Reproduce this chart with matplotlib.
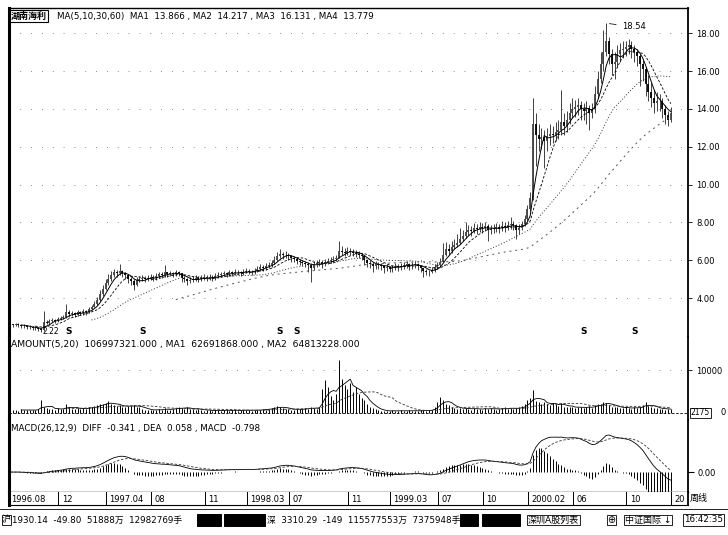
import matplotlib
matplotlib.use('Agg')
import matplotlib.pyplot as plt
import numpy as np
import pandas as pd
from matplotlib.patches import Rectangle

plt.rcParams['font.family'] = ['DejaVu Sans', 'Noto Sans CJK SC']

W, H = 728, 535

# weekly closes, 1996.08 .. 2001.01
close = [
    2.60, 2.55, 2.62, 2.58, 2.50, 2.52, 2.48, 2.45, 2.40, 2.42, 2.38,
    2.30, 2.75, 2.70, 2.80, 2.85, 2.78, 2.90, 2.95, 3.00,
    3.25, 3.15, 3.20, 3.10, 3.25, 3.20, 3.30, 3.25, 3.40,
    3.55, 3.70, 3.90, 4.20, 4.50, 4.80, 5.00,
    5.20, 5.35, 5.30, 5.45, 5.30, 5.20,
    5.00, 4.90, 4.70, 4.95, 5.00,
    5.05, 5.00, 5.05, 5.10, 5.05,
    5.15, 5.25, 5.20, 5.35, 5.25, 5.30, 5.25, 5.35, 5.30,
    5.05, 5.00, 4.90, 4.95, 5.00, 5.05, 5.00,
    5.05, 5.10, 5.05, 5.10, 5.05, 5.15,
    5.20, 5.25, 5.30, 5.25, 5.35, 5.30, 5.40, 5.35, 5.30, 5.40, 5.45, 5.40, 5.35, 5.45,
    5.55, 5.65, 5.60, 5.70, 5.75,
    5.85, 6.00, 6.20, 6.35, 6.25, 6.30, 6.20,
    6.10, 6.05, 5.95, 5.90, 5.85, 5.80,
    5.75, 5.60, 5.80, 5.85, 5.90,
    5.80, 5.90, 5.95, 6.00, 6.05, 6.10,
    6.50, 6.45, 6.40, 6.50, 6.45, 6.40, 6.35, 6.30, 6.20,
    6.00, 5.85, 5.80, 5.70, 5.80, 5.75, 5.70,
    5.60, 5.65, 5.55, 5.60, 5.70, 5.65, 5.70,
    5.75, 5.80, 5.70, 5.75, 5.80, 5.70, 5.60,
    5.45, 5.40, 5.35, 5.50,
    5.65, 5.75, 5.90,
    6.30, 6.60, 6.50, 6.70, 6.80, 6.90,
    7.10, 7.30, 7.50, 7.60, 7.55, 7.70, 7.65,
    7.75, 7.70, 7.80, 7.60, 7.65, 7.70, 7.75, 7.70, 7.80, 7.75, 7.85, 7.90, 7.85, 7.60,
    7.70, 7.90, 8.20, 8.70, 9.30,
    13.20,
    12.60, 12.40, 12.50, 12.30, 12.55, 12.70, 12.60, 12.80,
    12.90, 13.30, 13.10, 13.40,
    13.80, 14.00, 14.10, 14.20, 14.00, 13.90, 14.05, 13.80, 14.00,
    14.80, 15.60, 16.40,
    17.00, 17.60, 16.90, 16.40,
    16.50, 16.90, 17.10, 17.20, 17.30,
    17.40, 17.20, 17.00, 16.80,
    16.40, 16.10, 15.30, 14.90, 14.60, 14.30, 14.40,
    14.40, 14.00, 13.70, 13.40, 13.80,
]

high = [
    2.70, 2.65, 2.70, 2.68, 2.62, 2.60, 2.58, 2.55, 2.50, 2.50, 2.48,
    2.42, 3.30, 2.85, 2.90, 2.95, 2.90, 3.00, 3.05, 3.10,
    3.70, 3.35, 3.30, 3.25, 3.35, 3.30, 3.40, 3.35, 3.50,
    3.65, 3.85, 4.05, 4.40, 4.70, 5.00, 5.25,
    5.45, 5.55, 5.50, 5.80, 5.50, 5.40,
    5.25, 5.10, 5.00, 5.10, 5.15,
    5.20, 5.15, 5.20, 5.25, 5.20,
    5.30, 5.40, 5.35, 5.75, 5.40, 5.45, 5.40, 5.50, 5.45,
    5.30, 5.15, 5.05, 5.10, 5.15, 5.20, 5.15,
    5.20, 5.25, 5.20, 5.25, 5.20, 5.30,
    5.35, 5.40, 5.45, 5.40, 5.50, 5.45, 5.55, 5.50, 5.45, 5.55, 5.60, 5.55, 5.50, 5.60,
    5.70, 5.80, 5.75, 5.85, 5.90,
    6.00, 6.20, 6.45, 6.60, 6.45, 6.50, 6.40,
    6.30, 6.20, 6.15, 6.05, 6.00, 5.95,
    5.90, 5.85, 5.95, 6.00, 6.05,
    6.00, 6.05, 6.10, 6.15, 6.20, 6.30,
    7.00, 6.75, 6.65, 6.70, 6.65, 6.60, 6.55, 6.50, 6.40,
    6.25, 6.05, 6.00, 5.90, 5.95, 5.90, 5.85,
    5.75, 5.80, 5.70, 5.75, 5.85, 5.80, 5.85,
    5.90, 5.95, 5.85, 5.90, 5.95, 5.85, 5.75,
    5.60, 5.55, 5.50, 5.65,
    5.80, 5.90, 6.10,
    6.90, 6.95, 6.85, 7.00, 7.10, 7.40,
    7.70, 7.60, 8.00, 7.85, 7.80, 7.95, 7.90,
    8.00, 7.95, 8.00, 7.90, 7.85, 7.90, 7.95, 7.90, 8.05, 8.00, 8.10, 8.30, 8.10, 7.90,
    7.90, 8.10, 8.40, 8.90, 9.60,
    14.60,
    13.80, 13.20, 13.00, 12.90, 13.00, 13.20, 13.10, 13.30,
    13.40, 15.00, 13.80, 13.90,
    14.30, 14.60, 14.50, 14.60, 14.40, 14.30, 14.40, 14.20, 14.30,
    15.20, 16.00, 17.00,
    18.20, 18.54, 17.80, 17.20,
    17.00, 17.40, 17.50, 17.60, 17.60,
    17.70, 17.60, 17.40, 17.20,
    16.90, 16.60, 16.20, 15.80, 15.40, 15.00, 14.90,
    14.80, 14.60, 14.20, 13.90, 14.10,
]

low = [
    2.50, 2.45, 2.50, 2.48, 2.40, 2.42, 2.38, 2.35, 2.30, 2.32, 2.28,
    2.22, 2.28, 2.60, 2.65, 2.72, 2.68, 2.72, 2.85, 2.88,
    2.95, 3.00, 3.05, 2.98, 3.05, 3.08, 3.12, 3.12, 3.20,
    3.35, 3.50, 3.65, 3.85, 4.10, 4.40, 4.70,
    4.90, 5.10, 5.10, 5.20, 5.10, 5.00,
    4.80, 4.70, 4.40, 4.65, 4.85,
    4.90, 4.85, 4.90, 4.95, 4.90,
    4.95, 5.05, 5.05, 5.10, 5.10, 5.15, 5.10, 5.15, 5.15,
    4.85, 4.85, 4.70, 4.80, 4.85, 4.90, 4.85,
    4.90, 4.95, 4.90, 4.95, 4.90, 4.95,
    5.05, 5.10, 5.15, 5.10, 5.15, 5.15, 5.20, 5.20, 5.15, 5.20, 5.30, 5.25, 5.20, 5.25,
    5.35, 5.45, 5.45, 5.50, 5.60,
    5.65, 5.80, 5.95, 6.10, 6.05, 6.10, 6.00,
    5.90, 5.90, 5.80, 5.75, 5.70, 5.65,
    5.40, 4.85, 5.50, 5.65, 5.70,
    5.60, 5.70, 5.80, 5.85, 5.90, 5.95,
    6.10, 6.25, 6.20, 6.25, 6.25, 6.20, 6.15, 6.10, 6.00,
    5.75, 5.65, 5.60, 5.40, 5.55, 5.55, 5.50,
    5.30, 5.45, 5.35, 5.40, 5.50, 5.45, 5.50,
    5.55, 5.60, 5.50, 5.55, 5.60, 5.50, 5.40,
    5.10, 5.20, 5.15, 5.30,
    5.40, 5.55, 5.65,
    5.90, 6.20, 6.30, 6.40, 6.60, 6.70,
    6.85, 7.00, 7.20, 7.35, 7.30, 7.45, 7.40,
    7.50, 7.45, 7.55, 7.00, 7.40, 7.45, 7.50, 7.45, 7.55, 7.50, 7.60, 7.65, 7.60, 7.10,
    7.40, 7.60, 7.80, 8.10, 8.60,
    9.20,
    11.00, 11.80, 11.90, 10.90, 11.80, 12.10, 12.20, 12.30,
    12.40, 12.60, 12.60, 12.80,
    13.20, 13.50, 13.60, 13.70, 13.40, 13.40, 13.20, 12.90, 13.50,
    13.80, 14.60, 15.40,
    16.00, 16.80, 16.40, 15.80,
    15.60, 16.20, 16.50, 16.70, 16.80,
    16.90, 16.70, 16.50, 16.30,
    15.20, 15.50, 14.70, 14.40, 14.10, 13.80, 13.90,
    13.90, 13.50, 13.20, 13.10, 13.30,
]

# weekly amount (10k yuan)
amount = [
    600, 800, 700, 500, 900, 600, 700, 800, 600, 700, 900,
    3000, 1500, 1200, 900, 1000, 800, 1100, 900, 1000,
    2000, 1300, 1000, 900, 1100, 1000, 1200, 900, 1300,
    1400, 1600, 1800, 2200, 2000, 2400, 2800,
    2000, 1800, 1600, 1900, 1500, 1400,
    1600, 1700, 1900, 1500, 1300,
    900, 700, 800, 600, 700,
    800, 900, 700, 1200, 800, 700, 1000, 1200, 1500,
    1100, 900, 1300, 1000, 900, 800, 1000,
    600, 500, 700, 600, 500, 600,
    700, 500, 600, 800, 500, 600, 700, 500, 600, 700, 800, 600, 500, 700,
    800, 700, 900, 800, 1000,
    1200, 1400, 1600, 1300, 1100, 1000, 900,
    800, 700, 900, 1000, 900, 1100,
    1000, 1400, 1200, 1000, 1300,
    5500, 7700, 6000, 4000, 3000, 4500,
    12300, 8000, 6500, 5500, 7000, 5000, 6000, 4500, 3500,
    3000, 2200, 1500, 1200, 900, 600, 500,
    500, 400, 500, 600, 400, 500, 600,
    500, 400, 600, 500, 400, 500, 600,
    700, 500, 600, 800,
    1500, 2500, 3700,
    3000, 2200, 1800, 1500, 1200, 1000,
    1100, 900, 1200, 1000, 800, 1100, 900,
    1000, 800, 1200, 900, 1100, 1000, 700, 900, 1100, 1300, 1000, 1200, 900, 1100,
    1300, 1600, 2000, 3000, 3500,
    5300,
    2800, 2500, 2200, 2600, 2000, 1900, 2300, 2100,
    1600, 2400, 1500, 1400,
    1300, 1500, 1200, 1400, 1300, 1100, 1500, 1600, 1200,
    1800, 2000, 2200,
    2500, 2400, 1800, 1500,
    1300, 1500, 1200, 1100, 1300,
    1200, 1000, 1400, 1100,
    1500, 1800, 2600, 1600, 1300, 1200, 1100,
    1000, 900, 800, 1000, 900,
]

date_idx = [0, 18, 35, 51, 70, 85, 100, 121, 136, 153, 169, 185, 201, 220, 236]
date_labels = ['1996.08', '12', '1997.04', '08', '11', '1998.03', '07', '11',
               '1999.03', '07', '10', '2000.02', '06', '10', '20']

s_idx = [21, 47, 96, 102, 204, 222]

price_ticks = [4, 6, 8, 10, 12, 14, 16, 18]


def rect(x0, y0, x1, y1):
    return [x0 / W, 1 - y1 / H, (x1 - x0) / W, (y1 - y0) / H]


def ftext(fig, x, y, s, **kw):
    kw.setdefault('fontsize', 6.3)
    kw.setdefault('va', 'center')
    fig.text(x / W, 1 - y / H, s, **kw)


def fbox(fig, x0, y0, x1, y1, fill=False):
    fig.patches.append(Rectangle((x0 / W, 1 - y1 / H), (x1 - x0) / W, (y1 - y0) / H,
                                 transform=fig.transFigure, fill=fill,
                                 fc='black', ec='black', lw=0.7))


def plot_chart() -> None:
    c = np.array(close)
    o = np.r_[c[0], c[:-1]]
    hi = np.maximum(np.array(high), np.maximum(o, c))
    lo = np.minimum(np.array(low), np.minimum(o, c))
    v = np.array(amount, dtype=float)
    x = np.arange(len(c))
    s = pd.Series(c)
    xl = (-0.36, 241.1)

    fig = plt.figure(figsize=(7.28, 5.35), dpi=100)

    # price panel
    ax = fig.add_axes(rect(9, 8, 688, 337))
    ax.set_xlim(*xl)
    ax.set_ylim(4 - 39 / 18.9, 4 + 290 / 18.9)
    for t in price_ticks:
        ax.axhline(t, color='#666', lw=0.6, ls=(0, (1, 12)))
    ax.vlines(x, lo, hi, color='#222', lw=0.6)
    up = c >= o
    ax.vlines(x[up], o[up], c[up], color='#444', lw=1.3)
    ax.vlines(x[~up], o[~up], c[~up], color='black', lw=1.3)
    ax.plot(x, s.rolling(5).mean(), color='black', lw=0.7)
    ax.plot(x, s.rolling(10).mean(), color='black', lw=0.6, ls=(0, (3, 2)))
    ax.plot(x, s.rolling(30).mean(), color='#333', lw=0.7, ls=(0, (1, 2)))
    ax.plot(x, s.rolling(60).mean(), color='#555', lw=0.7, ls=(0, (2, 4)))
    for i in s_idx:
        ax.text(i, 2.25, 'S', fontsize=6.5, weight='bold', ha='center', va='center')
    imin = int(np.argmin(lo))
    ax.text(imin + 0.5, lo[imin] + 0.02, f'{lo[imin]:.2f}', fontsize=5.5, ha='left', va='center')
    imax = int(np.argmax(hi))
    ax.annotate(f'{hi[imax]:.2f}', xy=(imax, hi[imax]), xytext=(imax + 5.5, hi[imax] - 0.2),
                fontsize=6, va='center',
                arrowprops=dict(arrowstyle='-', lw=0.6, ls=(0, (2, 1)), color='black'))
    ax.text(2 / 679, 1 - 8 / 329, '湖南海利', transform=ax.transAxes, fontsize=6.5,
            weight='bold', va='center',
            bbox=dict(boxstyle='square,pad=0.12', fc='white', ec='black', lw=0.8))
    ax.text(48 / 679, 1 - 8 / 329,
            'MA(5,10,30,60)  MA1  13.866 , MA2  14.217 , MA3  16.131 , MA4  13.779',
            transform=ax.transAxes, fontsize=6.3, va='center')
    ax.yaxis.tick_right()
    ax.set_yticks(price_ticks)
    ax.set_yticklabels([f'{t:.2f}' for t in price_ticks])
    ax.set_xticks([])
    ax.tick_params(axis='y', direction='out', length=3, width=0.6, labelsize=6, pad=3)
    ax.spines['left'].set_linewidth(2.2)
    ax.spines['right'].set_linewidth(1.3)
    ax.spines['top'].set_linewidth(1.0)
    ax.spines['bottom'].set_visible(False)

    # amount panel
    av = fig.add_axes(rect(9, 337, 688, 420))
    av.set_xlim(*xl)
    av.set_ylim(-7 / 43 * 10000, 76 / 43 * 10000)
    av.axhline(10000, color='#666', lw=0.6, ls=(0, (1, 12)))
    av.axhline(0, color='black', lw=0.6, ls=(0, (3, 2)))
    av.vlines(x, 0, v, color='black', lw=0.7)
    vs = pd.Series(v)
    av.plot(x, vs.rolling(5).mean(), color='black', lw=0.6)
    av.plot(x, vs.rolling(20).mean(), color='#333', lw=0.6, ls=(0, (3, 2)))
    av.text(2 / 679, 1 - 8 / 83,
            'AMOUNT(5,20)  106997321.000 , MA1  62691868.000 , MA2  64813228.000',
            transform=av.transAxes, fontsize=6.6, va='center')
    av.yaxis.tick_right()
    av.set_yticks([10000])
    av.set_yticklabels(['10000'])
    av.set_xticks([])
    av.tick_params(axis='y', direction='out', length=3, width=0.6, labelsize=6, pad=3)
    av.text(1.004, 0.085, '2175', transform=av.transAxes, fontsize=5.5, va='center',
            bbox=dict(boxstyle='square,pad=0.1', fc='white', ec='black', lw=0.6))
    av.text(1.048, 0.085, '0', transform=av.transAxes, fontsize=6, va='center')
    av.spines['left'].set_linewidth(2.2)
    av.spines['right'].set_linewidth(1.3)
    av.spines['top'].set_visible(False)
    av.spines['bottom'].set_linestyle((0, (4, 2)))
    av.spines['bottom'].set_linewidth(0.7)

    # macd panel
    ema12 = s.ewm(span=12, adjust=False).mean()
    ema26 = s.ewm(span=26, adjust=False).mean()
    diff = ema12 - ema26
    dea = diff.ewm(span=9, adjust=False).mean()
    macd = 2 * (diff - dea)
    dmax = diff.max()
    am = fig.add_axes(rect(9, 420, 688, 492))
    am.set_xlim(*xl)
    am.set_ylim(-dmax * 20 / 37, dmax * 52 / 37)
    am.vlines(x, 0, macd, color='black', lw=0.7)
    am.plot(x, diff, color='black', lw=0.6)
    am.plot(x, dea, color='#333', lw=0.6, ls=(0, (3, 2)))
    am.text(2 / 679, 1 - 8 / 72,
            f'MACD(26,12,9)  DIFF  {diff.iloc[-1]:.3f} , DEA  {dea.iloc[-1]:.3f} , MACD  {macd.iloc[-1]:.3f}',
            transform=am.transAxes, fontsize=6.3, va='center')
    am.yaxis.tick_right()
    am.set_yticks([0])
    am.set_yticklabels(['0.00'])
    am.set_xticks([])
    am.tick_params(axis='y', direction='out', length=4, width=0.8, labelsize=6, pad=3)
    am.spines['left'].set_linewidth(2.2)
    am.spines['right'].set_linewidth(1.3)
    am.spines['top'].set_visible(False)
    am.spines['bottom'].set_linewidth(1.0)

    # date row
    ad = fig.add_axes(rect(9, 492, 688, 505))
    ad.set_xlim(*xl)
    ad.set_ylim(0, 1)
    for i, lab in zip(date_idx, date_labels):
        if i > 0:
            ad.axvline(i - 0.8, color='black', lw=0.7)
        ad.text(i + 0.4, 0.45, lab, fontsize=6, va='center', clip_on=True)
    ad.set_xticks([])
    ad.set_yticks([])
    ad.spines['left'].set_linewidth(2.2)
    ad.spines['right'].set_linewidth(1.3)
    ad.spines['top'].set_visible(False)
    ad.spines['bottom'].set_linewidth(0.8)
    ftext(fig, 690, 498, '周线', fontsize=6.5)

    # status bar
    fig.add_artist(plt.Line2D([0, 1], [1 - 509 / H, 1 - 509 / H], color='black', lw=0.6,
                              transform=fig.transFigure))
    ftext(fig, 2, 520, '沪', fontsize=6.5,
          bbox=dict(boxstyle='square,pad=0.05', fc='white', ec='black', lw=0.6))
    ftext(fig, 12, 520, '1930.14  -49.80  51888万  12982769手', fontsize=6.3)
    fbox(fig, 197, 514, 221, 526, fill=True)
    fbox(fig, 224, 514, 265, 526, fill=True)
    ftext(fig, 267, 520, '深  3310.29  -149  115577553万  7375948手', fontsize=6.3)
    fbox(fig, 460, 514, 478, 526, fill=True)
    fbox(fig, 482, 514, 520, 526, fill=True)
    ftext(fig, 528, 520, '深圳A股列表', fontsize=6.5,
          bbox=dict(boxstyle='square,pad=0.1', fc='white', ec='black', lw=0.6))
    ftext(fig, 607, 520, '⊕', fontsize=7,
          bbox=dict(boxstyle='square,pad=0.05', fc='white', ec='black', lw=0.6))
    ftext(fig, 625, 520, '中证国际 ↓', fontsize=6.5,
          bbox=dict(boxstyle='square,pad=0.1', fc='white', ec='black', lw=0.6))
    ftext(fig, 684, 520, '16:42:35', fontsize=6.3,
          bbox=dict(boxstyle='square,pad=0.15', fc='white', ec='black', lw=0.6))

    fig.savefig('out.png', dpi=100)


def main() -> None:
    plot_chart()


if __name__ == "__main__":
    main()
